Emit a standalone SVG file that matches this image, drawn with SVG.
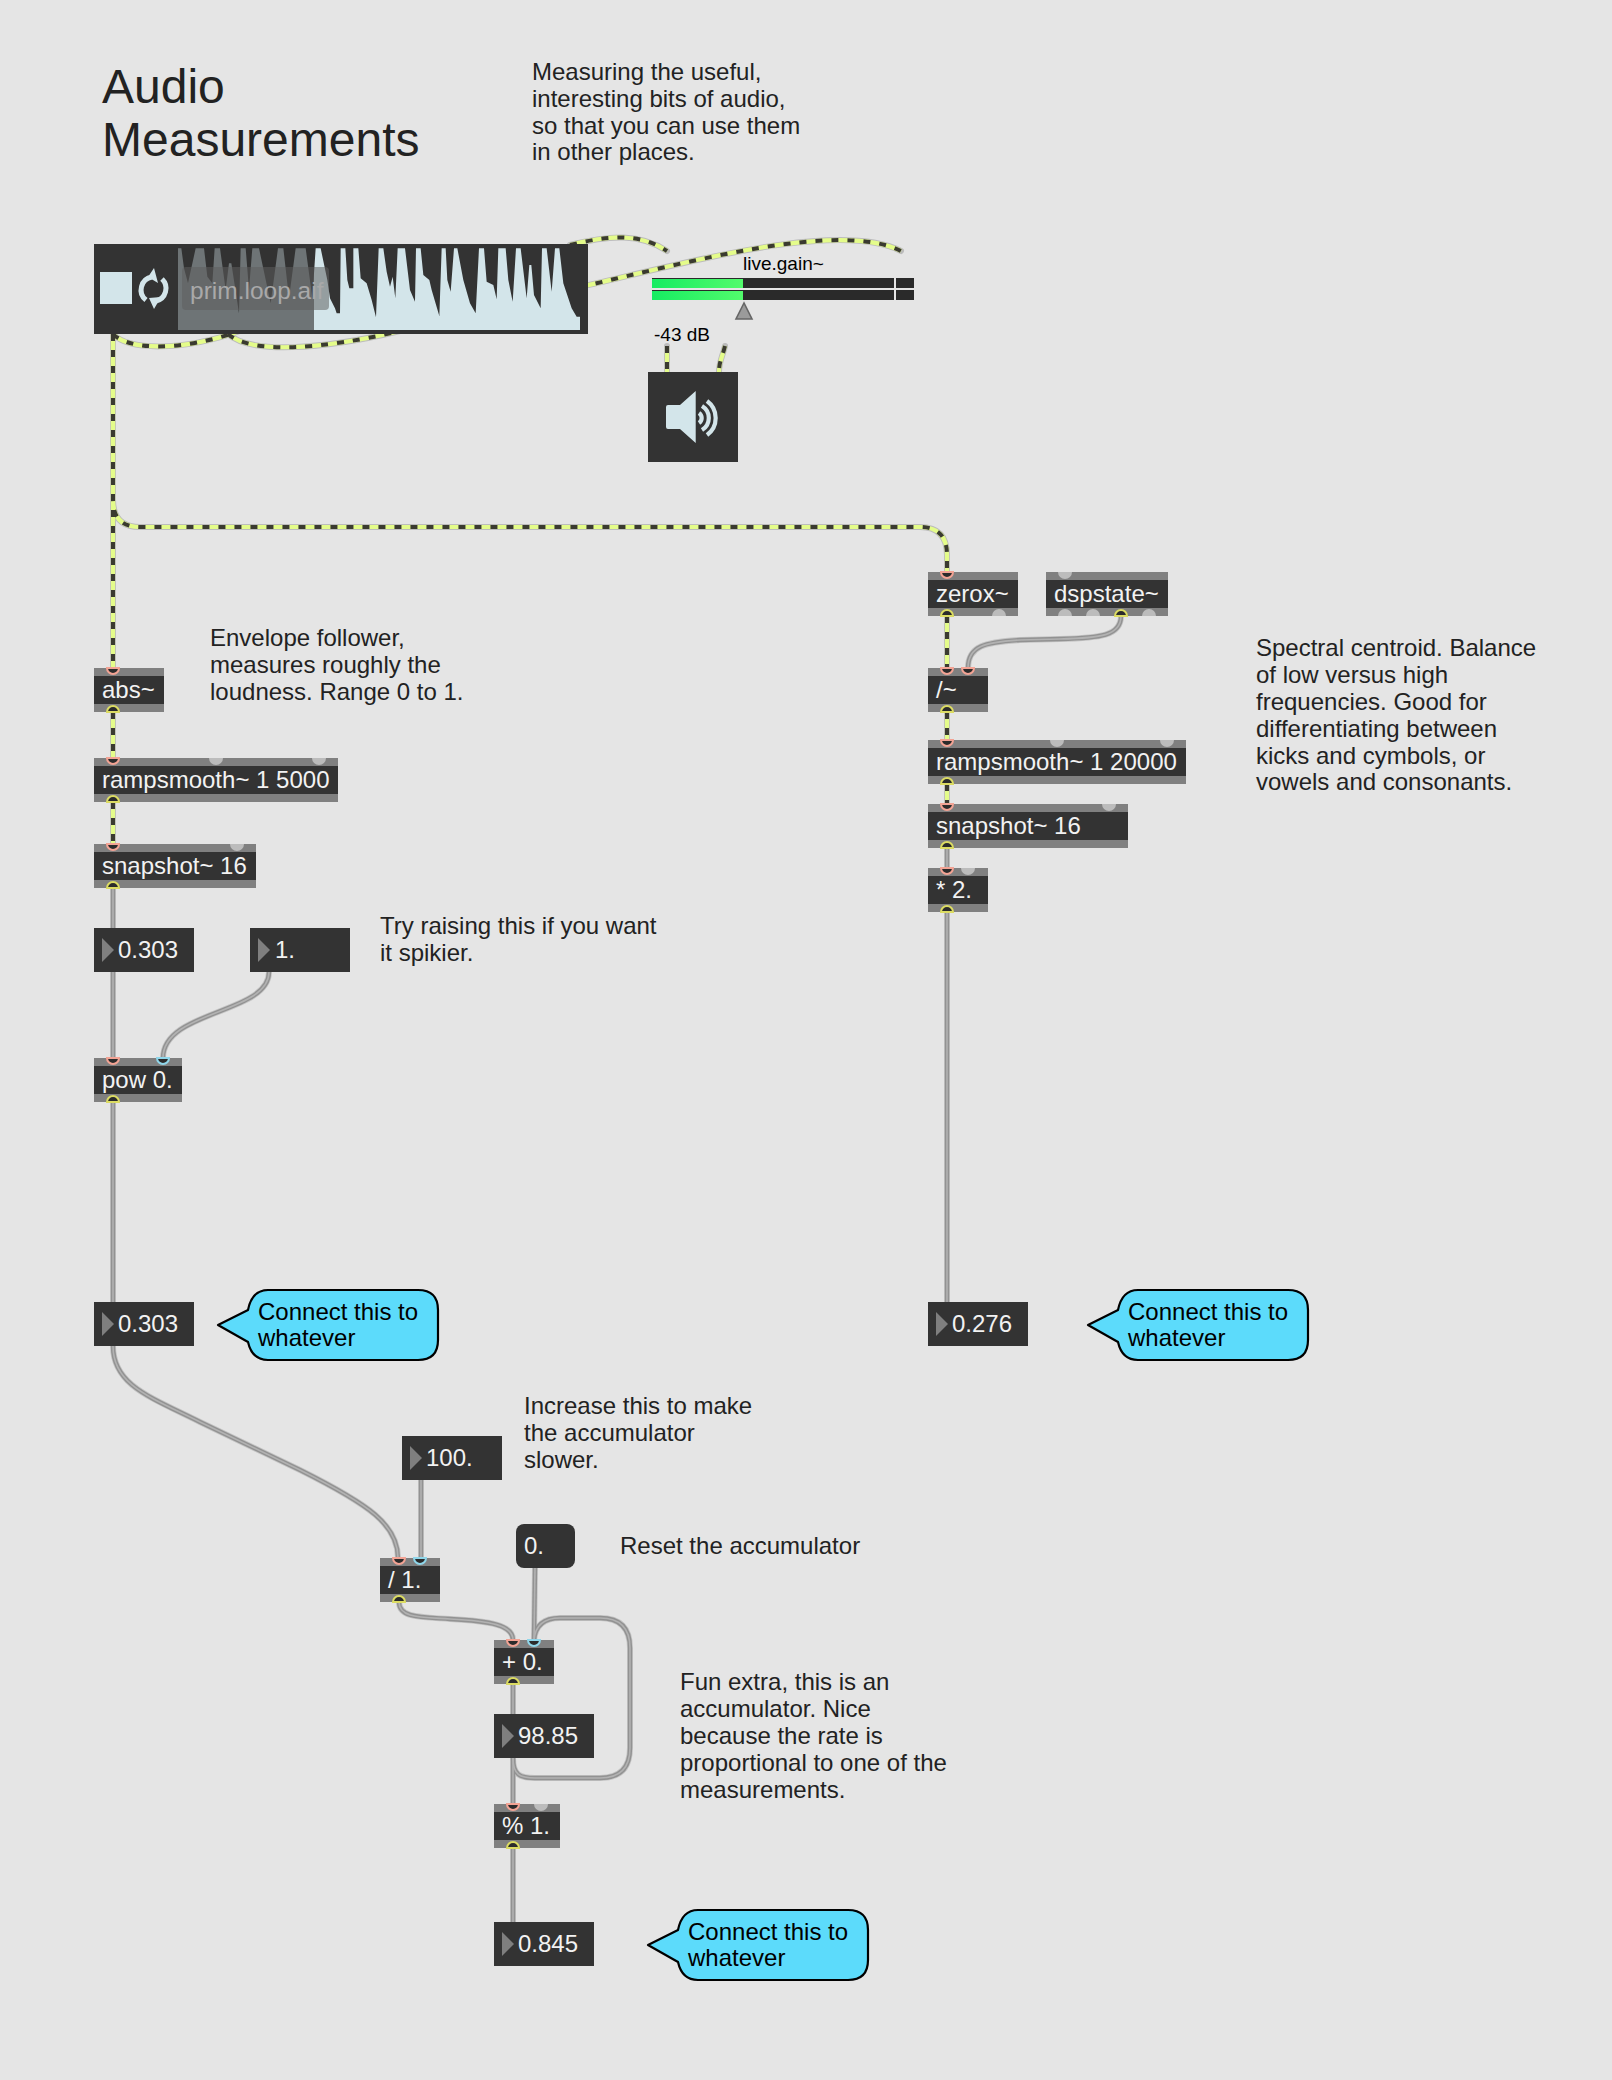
<svg xmlns="http://www.w3.org/2000/svg" width="1612" height="2080" viewBox="0 0 1612 2080">
<style>
text{font-family:"Liberation Sans",Arial,sans-serif;font-size:24px}
.c{fill:#222}
.o{fill:#f2f2f2}
.b{fill:#000}
.box{fill:#808080}
.mid{fill:#333}
.tri{fill:#7f7f7f}
.g1,.g2,.g3,.d1,.d2,.d3{fill:none}
.g1{stroke:#c4c4c4;stroke-width:6;stroke-linecap:round}
.g2{stroke:#929292;stroke-width:4.4}
.g3{stroke:#b2b2b2;stroke-width:1.6}
.d1{stroke:#bcbcbc;stroke-width:6;stroke-linecap:round}
.d2{stroke:#e4fc8a;stroke-width:4.2}
.d3{stroke:#3a3a30;stroke-width:4;stroke-dasharray:7 9}
.pi{fill:#2b2b2b;stroke:#f3a394;stroke-width:2}
.ci{fill:#2b2b2b;stroke:#8fd6ea;stroke-width:2}
.yo{fill:#2b2b2b;stroke:#dcdc62;stroke-width:2}
.un{fill:#bcbcbc}
.bub{fill:#5cdbfb;stroke:#000;stroke-width:2.2;stroke-linejoin:round}
.ic{fill:#d3e5ea}
.is{fill:none;stroke:#d3e5ea}
</style>
<defs>
<path id="in" d="M-6 0a6 6 0 0 0 12 0z"/>
<path id="out" d="M-6 0a6 6 0 0 1 12 0z"/>
<path id="uin" d="M-7 0a7 7 0 0 0 14 0z"/>
<path id="uout" d="M-7 0a7 7 0 0 1 14 0z"/>
<polygon id="tr" points="0,0 12,12 0,24"/>
<linearGradient id="gr" x1="0" x2="1" y1="0" y2="0"><stop offset="0" stop-color="#16ec62"/><stop offset="1" stop-color="#52fb6c"/></linearGradient>
</defs>
<rect width="1612" height="2080" fill="#e5e5e5"/>

<g id="connectors">
<g class="d1"><g id="dash">
<path d="M570 245C610 235 640 233 667 251"/>
<path d="M580 287C690 262 840 220 901 251"/>
<path d="M113 334C128 350 180 352 240 331"/>
<path d="M228 334C250 354 320 350 400 331"/>
<path d="M667 346V372"/>
<path d="M725 346C722 358 719 362 719 372"/>
<path d="M113 334V500Q113 527 140 527H920Q947 527 947 555V572"/>
<path d="M113 334V668"/>
<path d="M113 712V758"/>
<path d="M113 802V844"/>
<path d="M947 616V668"/>
<path d="M947 712V740"/>
<path d="M947 784V804"/>
</g></g>
<use href="#dash" class="d2"/>
<use href="#dash" class="d3"/>
<g class="g1"><g id="grey">
<path d="M1121 616C1121 636 1100 638 1060 639L1020 640C985 642 968 646 968 668"/>
<path d="M947 848V868"/>
<path d="M947 912V1302"/>
<path d="M113 888V1058"/>
<path d="M269 972C269 1014 163 1010 163 1058"/>
<path d="M113 1102V1302"/>
<path d="M113 1346C113 1385 150 1397 200 1422L300 1470C370 1505 398 1525 398 1558"/>
<path d="M421 1480V1558"/>
<path d="M399 1602C399 1618 420 1617 450 1619C490 1621 513 1625 513 1640"/>
<path d="M535 1568L534 1640"/>
<path d="M513 1684V1804"/>
<path d="M513 1758C513 1775 520 1778 535 1778H600Q630 1778 630 1748V1648Q630 1618 600 1618H560Q536 1618 534 1640"/>
<path d="M513 1848V1922"/>
</g></g>
<use href="#grey" class="g2"/>
<use href="#grey" class="g3"/>
</g>

<g id="title"><text x="102" y="103" style="font-size:48px" class="c">Audio</text><text x="102" y="156" style="font-size:48px" class="c">Measurements</text></g>
<g id="comment-intro" class="c"><text x="532" y="80">Measuring the useful,</text><text x="532" y="107">interesting bits of audio,</text><text x="532" y="134">so that you can use them</text><text x="532" y="160">in other places.</text></g>

<g id="playlist">
<rect x="94" y="244" width="494" height="90" fill="#333"/>
<rect x="100" y="272" width="32" height="32" class="ic"/>
<path class="is" stroke-width="5" d="M152 277A13 13 0 0 0 146 300M156 301A13 13 0 0 0 162 279"/>
<path class="ic" d="M154 268L148 277L158 283ZM154 309L149 298L161 297Z"/>
<polygon class="ic" transform="translate(94 240) scale(.33333)" points="252,270 252,25 262,25 270,85 282,130 305,25 330,25 340,110 355,130 362,25 378,25 395,150 405,70 412,70 435,220 440,25 455,25 465,150 475,25 495,25 530,190 552,25 568,25 585,175 605,25 635,25 655,175 665,25 680,25 700,120 708,175 708,270"/>
<polygon class="ic" transform="translate(330 240) scale(.33333)" points="0,270 0,175 15,205 20,220 30,220 32,25 46,25 52,120 58,145 70,145 70,25 85,25 92,115 110,130 125,180 138,232 146,25 160,25 170,95 180,140 188,110 196,175 203,25 225,25 240,150 255,185 258,25 272,25 280,105 298,120 305,150 328,228 335,25 347,25 352,120 362,155 372,25 382,25 400,120 420,190 437,220 447,25 462,25 470,125 490,135 500,178 505,25 527,25 535,120 548,185 558,25 572,25 590,175 598,75 604,75 612,165 632,205 636,25 650,25 665,155 675,25 688,25 700,130 715,175 725,205 740,230 750,230 750,270"/>
<rect x="178" y="248" width="136" height="82" fill="#333" fill-opacity=".63"/>
<rect x="182" y="267" width="147" height="43" rx="4" fill="#5e5e5e" fill-opacity=".53"/>
<text x="190" y="299" style="font-size:24.500px" fill="#a9a9a9">prim.loop.aif</text>
</g>

<g id="gain">
<rect x="652" y="278" width="262" height="10" fill="#2a2a2a"/><rect x="652" y="290" width="262" height="10" fill="#2a2a2a"/>
<rect x="652" y="279" width="91" height="9" fill="url(#gr)"/><rect x="652" y="291" width="91" height="9" fill="url(#gr)"/>
<rect x="894" y="278" width="2" height="22" fill="#e5e5e5"/>
<path d="M744 303L736 319H752Z" fill="#9b9b9b" stroke="#666" stroke-width="1.6"/>
<text x="743" y="270" style="font-size:19px" class="b">live.gain~</text>
<text x="654" y="341" style="font-size:19px" class="b">-43 dB</text>
</g>

<g id="speaker">
<rect x="648" y="372" width="90" height="90" fill="#333"/>
<path class="ic" d="M668 405H680L695.700 391V443L680 429H668Q666 429 666 427V407Q666 405 668 405Z"/>
<path class="is" stroke-width="4.200" d="M699 413A6 6 0 0 1 699 423M702 406A14 14 0 0 1 702 430M707 401A21 21 0 0 1 707 435"/>
</g>

<g id="abs"><rect class="box" x="94" y="668" width="70" height="44"/><rect class="mid" x="94" y="676" width="70" height="28"/><text class="o" x="102" y="698">abs~</text><use href="#in" class="pi" x="113" y="668"/><use href="#out" class="yo" x="113" y="712"/></g>
<g id="ramp1"><rect class="box" x="94" y="758" width="244" height="44"/><rect class="mid" x="94" y="766" width="244" height="28"/><text class="o" x="102" y="788">rampsmooth~ 1 5000</text><use href="#in" class="pi" x="113" y="758"/><use href="#uin" class="un" x="216" y="758"/><use href="#uin" class="un" x="319" y="758"/><use href="#out" class="yo" x="113" y="802"/></g>
<g id="snap1"><rect class="box" x="94" y="844" width="162" height="44"/><rect class="mid" x="94" y="852" width="162" height="28"/><text class="o" x="102" y="874">snapshot~ 16</text><use href="#in" class="pi" x="113" y="844"/><use href="#uin" class="un" x="237" y="844"/><use href="#out" class="yo" x="113" y="888"/></g>
<g id="num1"><rect class="mid" x="94" y="928" width="100" height="44"/><use href="#tr" class="tri" x="102" y="938"/><text class="o" x="118" y="958">0.303</text></g>
<g id="num2"><rect class="mid" x="250" y="928" width="100" height="44"/><use href="#tr" class="tri" x="258" y="938"/><text class="o" x="275" y="958">1.</text></g>
<g id="pow"><rect class="box" x="94" y="1058" width="88" height="44"/><rect class="mid" x="94" y="1066" width="88" height="28"/><text class="o" x="102" y="1088">pow 0.</text><use href="#in" class="pi" x="113" y="1058"/><use href="#in" class="ci" x="163" y="1058"/><use href="#out" class="yo" x="113" y="1102"/></g>
<g id="num3"><rect class="mid" x="94" y="1302" width="100" height="44"/><use href="#tr" class="tri" x="102" y="1312"/><text class="o" x="118" y="1332">0.303</text></g>

<g id="zerox"><rect class="box" x="928" y="572" width="90" height="44"/><rect class="mid" x="928" y="580" width="90" height="28"/><text class="o" x="936" y="602">zerox~</text><use href="#in" class="pi" x="947" y="572"/><use href="#out" class="yo" x="947" y="616"/><use href="#uout" class="un" x="999" y="616"/></g>
<g id="dspstate"><rect class="box" x="1046" y="572" width="122" height="44"/><rect class="mid" x="1046" y="580" width="122" height="28"/><text class="o" x="1054" y="602">dspstate~</text><use href="#uin" class="un" x="1065" y="572"/><use href="#uout" class="un" x="1065" y="616"/><use href="#uout" class="un" x="1093" y="616"/><use href="#out" class="yo" x="1121" y="616"/><use href="#uout" class="un" x="1149" y="616"/></g>
<g id="div"><rect class="box" x="928" y="668" width="60" height="44"/><rect class="mid" x="928" y="676" width="60" height="28"/><text class="o" x="936" y="698">/~</text><use href="#in" class="pi" x="947" y="668"/><use href="#in" class="pi" x="968" y="668"/><use href="#out" class="yo" x="947" y="712"/></g>
<g id="ramp2"><rect class="box" x="928" y="740" width="258" height="44"/><rect class="mid" x="928" y="748" width="258" height="28"/><text class="o" x="936" y="770">rampsmooth~ 1 20000</text><use href="#in" class="pi" x="947" y="740"/><use href="#uin" class="un" x="1057" y="740"/><use href="#uin" class="un" x="1167" y="740"/><use href="#out" class="yo" x="947" y="784"/></g>
<g id="snap2"><rect class="box" x="928" y="804" width="200" height="44"/><rect class="mid" x="928" y="812" width="200" height="28"/><text class="o" x="936" y="834">snapshot~ 16</text><use href="#in" class="pi" x="947" y="804"/><use href="#uin" class="un" x="1109" y="804"/><use href="#out" class="yo" x="947" y="848"/></g>
<g id="mul"><rect class="box" x="928" y="868" width="60" height="44"/><rect class="mid" x="928" y="876" width="60" height="28"/><text class="o" x="936" y="898">* 2.</text><use href="#in" class="pi" x="947" y="868"/><use href="#uin" class="un" x="968" y="868"/><use href="#out" class="yo" x="947" y="912"/></g>
<g id="num4"><rect class="mid" x="928" y="1302" width="100" height="44"/><use href="#tr" class="tri" x="936" y="1312"/><text class="o" x="952" y="1332">0.276</text></g>

<g id="num5"><rect class="mid" x="402" y="1436" width="100" height="44"/><use href="#tr" class="tri" x="410" y="1446"/><text class="o" x="426" y="1466">100.</text></g>
<g id="divf"><rect class="box" x="380" y="1558" width="60" height="44"/><rect class="mid" x="380" y="1566" width="60" height="28"/><text class="o" x="388" y="1588">/ 1.</text><use href="#in" class="pi" x="399" y="1558"/><use href="#in" class="ci" x="420" y="1558"/><use href="#out" class="yo" x="399" y="1602"/></g>
<g id="msg"><rect class="mid" x="516" y="1524" width="59" height="44" rx="8"/><text class="o" x="524" y="1554">0.</text></g>
<g id="add"><rect class="box" x="494" y="1640" width="60" height="44"/><rect class="mid" x="494" y="1648" width="60" height="28"/><text class="o" x="502" y="1670">+ 0.</text><use href="#in" class="pi" x="513" y="1640"/><use href="#in" class="ci" x="534" y="1640"/><use href="#out" class="yo" x="513" y="1684"/></g>
<g id="num6"><rect class="mid" x="494" y="1714" width="100" height="44"/><use href="#tr" class="tri" x="502" y="1724"/><text class="o" x="518" y="1744">98.85</text></g>
<g id="mod"><rect class="box" x="494" y="1804" width="66" height="44"/><rect class="mid" x="494" y="1812" width="66" height="28"/><text class="o" x="502" y="1834">% 1.</text><use href="#in" class="pi" x="513" y="1804"/><use href="#uin" class="un" x="541" y="1804"/><use href="#out" class="yo" x="513" y="1848"/></g>
<g id="num7"><rect class="mid" x="494" y="1922" width="100" height="44"/><use href="#tr" class="tri" x="502" y="1932"/><text class="o" x="518" y="1952">0.845</text></g>

<g id="comment-env" class="c"><text x="210" y="646">Envelope follower,</text><text x="210" y="673">measures roughly the</text><text x="210" y="700">loudness. Range 0 to 1.</text></g>
<g id="comment-try" class="c"><text x="380" y="934">Try raising this if you want</text><text x="380" y="961">it spikier.</text></g>
<g id="comment-spec" class="c"><text x="1256" y="656">Spectral centroid. Balance</text><text x="1256" y="683">of low versus high</text><text x="1256" y="710">frequencies. Good for</text><text x="1256" y="737">differentiating between</text><text x="1256" y="764">kicks and cymbols, or</text><text x="1256" y="790">vowels and consonants.</text></g>
<g id="comment-inc" class="c"><text x="524" y="1414">Increase this to make</text><text x="524" y="1441">the accumulator</text><text x="524" y="1468">slower.</text></g>
<g id="comment-reset" class="c"><text x="620" y="1554">Reset the accumulator</text></g>
<g id="comment-fun" class="c"><text x="680" y="1690">Fun extra, this is an</text><text x="680" y="1717">accumulator. Nice</text><text x="680" y="1744">because the rate is</text><text x="680" y="1771">proportional to one of the</text><text x="680" y="1798">measurements.</text></g>

<g id="bubble1"><path class="bub" d="M268 1290H418Q438 1290 438 1310V1340Q438 1360 418 1360H268Q252 1360 248 1342L218 1325L248 1310Q252 1290 268 1290Z"/><text class="b" x="258" y="1320">Connect this to</text><text class="b" x="258" y="1346">whatever</text></g>
<g id="bubble2"><path class="bub" d="M1138 1290H1288Q1308 1290 1308 1310V1340Q1308 1360 1288 1360H1138Q1122 1360 1118 1342L1088 1325L1118 1310Q1122 1290 1138 1290Z"/><text class="b" x="1128" y="1320">Connect this to</text><text class="b" x="1128" y="1346">whatever</text></g>
<g id="bubble3"><path class="bub" d="M698 1910H848Q868 1910 868 1930V1960Q868 1980 848 1980H698Q682 1980 678 1962L648 1945L678 1930Q682 1910 698 1910Z"/><text class="b" x="688" y="1940">Connect this to</text><text class="b" x="688" y="1966">whatever</text></g>
</svg>
